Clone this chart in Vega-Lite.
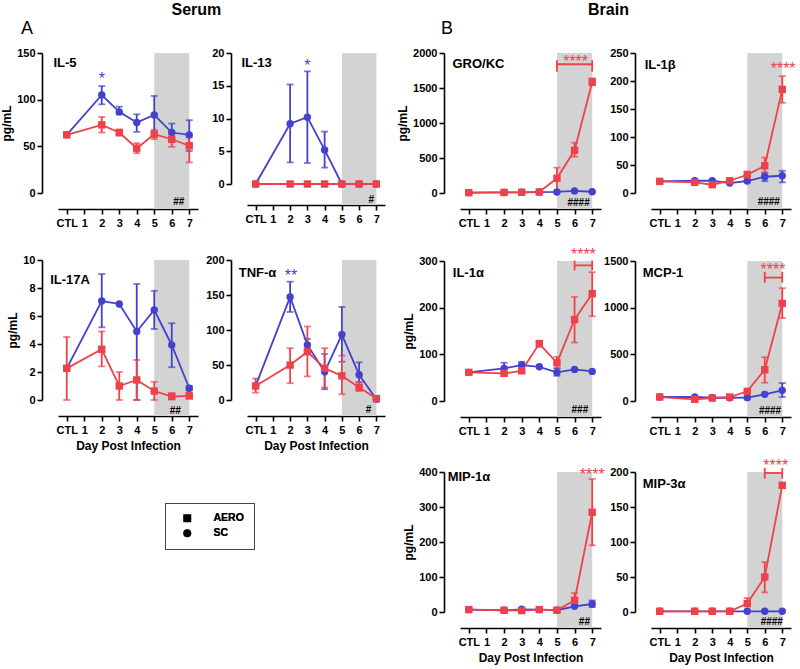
{
"$schema": "https://vega.github.io/schema/vega-lite/v6.json",
"padding": {"left": 0, "top": 2, "right": 5, "bottom": 5},
"datasets": {"d": [
{"c":"IL-5","g":"SC","d":0,"m":62.3},
{"c":"IL-5","g":"SC","d":2,"m":105,"lo":95,"hi":114.6},
{"c":"IL-5","g":"SC","d":3,"m":86.9,"lo":84.3,"hi":92.5},
{"c":"IL-5","g":"SC","d":4,"m":75.5,"lo":65.5,"hi":84.3},
{"c":"IL-5","g":"SC","d":5,"m":83.7,"lo":62,"hi":104},
{"c":"IL-5","g":"SC","d":6,"m":64.8,"lo":55,"hi":74.4},
{"c":"IL-5","g":"SC","d":7,"m":62.3,"lo":45,"hi":78},
{"c":"IL-13","g":"SC","d":0,"m":0},
{"c":"IL-13","g":"SC","d":2,"m":9.2,"lo":3.3,"hi":15.2},
{"c":"IL-13","g":"SC","d":3,"m":10.2,"lo":3.2,"hi":17.2},
{"c":"IL-13","g":"SC","d":4,"m":5.2,"lo":2.5,"hi":8.0},
{"c":"IL-13","g":"SC","d":5,"m":0},
{"c":"IL-13","g":"SC","d":6,"m":0},
{"c":"IL-13","g":"SC","d":7,"m":0},
{"c":"IL-17A","g":"SC","d":0,"m":2.26},
{"c":"IL-17A","g":"SC","d":2,"m":7.07,"lo":5.19,"hi":9.0},
{"c":"IL-17A","g":"SC","d":3,"m":6.86},
{"c":"IL-17A","g":"SC","d":4,"m":4.89,"lo":0,"hi":8.29},
{"c":"IL-17A","g":"SC","d":5,"m":6.43,"lo":5.07,"hi":7.8},
{"c":"IL-17A","g":"SC","d":6,"m":3.93,"lo":2.34,"hi":5.48},
{"c":"IL-17A","g":"SC","d":7,"m":0.84,"lo":0.7,"hi":1.0},
{"c":"TNF","g":"SC","d":0,"m":20.1},
{"c":"TNF","g":"SC","d":2,"m":147.3,"lo":125.8,"hi":169},
{"c":"TNF","g":"SC","d":3,"m":78.7,"lo":70,"hi":87.3},
{"c":"TNF","g":"SC","d":4,"m":40.3,"lo":15.4,"hi":65.8},
{"c":"TNF","g":"SC","d":5,"m":93.5,"lo":54.7,"hi":133},
{"c":"TNF","g":"SC","d":6,"m":36,"lo":25,"hi":53.8},
{"c":"TNF","g":"SC","d":7,"m":1},
{"c":"GRO","g":"SC","d":0,"m":5},
{"c":"GRO","g":"SC","d":2,"m":8},
{"c":"GRO","g":"SC","d":3,"m":10},
{"c":"GRO","g":"SC","d":4,"m":12},
{"c":"GRO","g":"SC","d":5,"m":15},
{"c":"GRO","g":"SC","d":6,"m":30},
{"c":"GRO","g":"SC","d":7,"m":18},
{"c":"IL-1b","g":"SC","d":0,"m":20.7},
{"c":"IL-1b","g":"SC","d":2,"m":21.9},
{"c":"IL-1b","g":"SC","d":3,"m":21.9},
{"c":"IL-1b","g":"SC","d":4,"m":17.8},
{"c":"IL-1b","g":"SC","d":5,"m":21.4},
{"c":"IL-1b","g":"SC","d":6,"m":29,"lo":21,"hi":36.8},
{"c":"IL-1b","g":"SC","d":7,"m":30.8,"lo":19,"hi":39.7},
{"c":"IL-1a","g":"SC","d":0,"m":61.3},
{"c":"IL-1a","g":"SC","d":2,"m":70,"lo":59,"hi":82},
{"c":"IL-1a","g":"SC","d":3,"m":77,"lo":67,"hi":84},
{"c":"IL-1a","g":"SC","d":4,"m":73.3},
{"c":"IL-1a","g":"SC","d":5,"m":61.3,"lo":54,"hi":70},
{"c":"IL-1a","g":"SC","d":6,"m":67.7},
{"c":"IL-1a","g":"SC","d":7,"m":63.4},
{"c":"MCP","g":"SC","d":0,"m":42.6},
{"c":"MCP","g":"SC","d":2,"m":42.6},
{"c":"MCP","g":"SC","d":3,"m":35},
{"c":"MCP","g":"SC","d":4,"m":35},
{"c":"MCP","g":"SC","d":5,"m":36},
{"c":"MCP","g":"SC","d":6,"m":71},
{"c":"MCP","g":"SC","d":7,"m":114,"lo":42.6,"hi":192},
{"c":"MIP1","g":"SC","d":0,"m":6.9},
{"c":"MIP1","g":"SC","d":2,"m":5},
{"c":"MIP1","g":"SC","d":3,"m":7.7},
{"c":"MIP1","g":"SC","d":4,"m":6.9},
{"c":"MIP1","g":"SC","d":5,"m":5},
{"c":"MIP1","g":"SC","d":6,"m":16.3},
{"c":"MIP1","g":"SC","d":7,"m":22.9,"lo":14,"hi":33},
{"c":"MIP3","g":"SC","d":0,"m":1},
{"c":"MIP3","g":"SC","d":2,"m":1},
{"c":"MIP3","g":"SC","d":3,"m":1},
{"c":"MIP3","g":"SC","d":4,"m":1},
{"c":"MIP3","g":"SC","d":5,"m":1},
{"c":"MIP3","g":"SC","d":6,"m":1},
{"c":"MIP3","g":"SC","d":7,"m":1},
{"c":"IL-5","g":"AERO","d":0,"m":62.3},
{"c":"IL-5","g":"AERO","d":2,"m":73,"lo":64.8,"hi":81.5},
{"c":"IL-5","g":"AERO","d":3,"m":64.8,"lo":61.5,"hi":68},
{"c":"IL-5","g":"AERO","d":4,"m":48,"lo":42.7,"hi":53.4},
{"c":"IL-5","g":"AERO","d":5,"m":63,"lo":57.6,"hi":67.7},
{"c":"IL-5","g":"AERO","d":6,"m":57.6,"lo":49.5,"hi":63},
{"c":"IL-5","g":"AERO","d":7,"m":50.6,"lo":32.8,"hi":59.4},
{"c":"IL-13","g":"AERO","d":0,"m":0},
{"c":"IL-13","g":"AERO","d":2,"m":0},
{"c":"IL-13","g":"AERO","d":3,"m":0},
{"c":"IL-13","g":"AERO","d":4,"m":0},
{"c":"IL-13","g":"AERO","d":5,"m":0},
{"c":"IL-13","g":"AERO","d":6,"m":0},
{"c":"IL-13","g":"AERO","d":7,"m":0},
{"c":"IL-17A","g":"AERO","d":0,"m":2.26,"lo":0,"hi":4.5},
{"c":"IL-17A","g":"AERO","d":2,"m":3.62,"lo":2.4,"hi":4.9},
{"c":"IL-17A","g":"AERO","d":3,"m":1.0,"lo":0,"hi":2.0},
{"c":"IL-17A","g":"AERO","d":4,"m":1.43,"lo":0,"hi":2.86},
{"c":"IL-17A","g":"AERO","d":5,"m":0.64,"lo":0,"hi":1.3},
{"c":"IL-17A","g":"AERO","d":6,"m":0.24,"lo":0.1,"hi":0.5},
{"c":"IL-17A","g":"AERO","d":7,"m":0.3,"lo":0.1,"hi":0.55},
{"c":"TNF","g":"AERO","d":0,"m":20.1,"lo":10.6,"hi":30.8},
{"c":"TNF","g":"AERO","d":2,"m":49.9,"lo":24,"hi":74},
{"c":"TNF","g":"AERO","d":3,"m":69,"lo":33.7,"hi":105},
{"c":"TNF","g":"AERO","d":4,"m":45.2,"lo":17.8,"hi":74},
{"c":"TNF","g":"AERO","d":5,"m":34.5,"lo":8.2,"hi":63.3},
{"c":"TNF","g":"AERO","d":6,"m":17.8,"lo":13,"hi":25.9},
{"c":"TNF","g":"AERO","d":7,"m":2},
{"c":"GRO","g":"AERO","d":0,"m":5},
{"c":"GRO","g":"AERO","d":2,"m":8},
{"c":"GRO","g":"AERO","d":3,"m":10},
{"c":"GRO","g":"AERO","d":4,"m":15},
{"c":"GRO","g":"AERO","d":5,"m":210,"lo":30,"hi":362},
{"c":"GRO","g":"AERO","d":6,"m":610,"lo":519,"hi":719},
{"c":"GRO","g":"AERO","d":7,"m":1586,"lo":1538,"hi":1638},
{"c":"IL-1b","g":"AERO","d":0,"m":20.7},
{"c":"IL-1b","g":"AERO","d":2,"m":18.9},
{"c":"IL-1b","g":"AERO","d":3,"m":14.8,"lo":12,"hi":18},
{"c":"IL-1b","g":"AERO","d":4,"m":21.9},
{"c":"IL-1b","g":"AERO","d":5,"m":32.6,"lo":28,"hi":38.4},
{"c":"IL-1b","g":"AERO","d":6,"m":48.6,"lo":33.8,"hi":63.3},
{"c":"IL-1b","g":"AERO","d":7,"m":185,"lo":161,"hi":208.7},
{"c":"IL-1a","g":"AERO","d":0,"m":61.3},
{"c":"IL-1a","g":"AERO","d":2,"m":59.2},
{"c":"IL-1a","g":"AERO","d":3,"m":64.7},
{"c":"IL-1a","g":"AERO","d":4,"m":123,"lo":116,"hi":128.9},
{"c":"IL-1a","g":"AERO","d":5,"m":81.8,"lo":70,"hi":94.7},
{"c":"IL-1a","g":"AERO","d":6,"m":174.6,"lo":125.4,"hi":223},
{"c":"IL-1a","g":"AERO","d":7,"m":230,"lo":181.6,"hi":276},
{"c":"MCP","g":"AERO","d":0,"m":42.6},
{"c":"MCP","g":"AERO","d":2,"m":18,"lo":5,"hi":30},
{"c":"MCP","g":"AERO","d":3,"m":32},
{"c":"MCP","g":"AERO","d":4,"m":42.6},
{"c":"MCP","g":"AERO","d":5,"m":103.4},
{"c":"MCP","g":"AERO","d":6,"m":334.8,"lo":196,"hi":469},
{"c":"MCP","g":"AERO","d":7,"m":1045,"lo":889,"hi":1209},
{"c":"MIP1","g":"AERO","d":0,"m":6.9},
{"c":"MIP1","g":"AERO","d":2,"m":4.9},
{"c":"MIP1","g":"AERO","d":3,"m":4},
{"c":"MIP1","g":"AERO","d":4,"m":6.9},
{"c":"MIP1","g":"AERO","d":5,"m":5},
{"c":"MIP1","g":"AERO","d":6,"m":33.4,"lo":18,"hi":54},
{"c":"MIP1","g":"AERO","d":7,"m":285,"lo":190.6,"hi":380},
{"c":"MIP3","g":"AERO","d":0,"m":1},
{"c":"MIP3","g":"AERO","d":2,"m":1},
{"c":"MIP3","g":"AERO","d":3,"m":1},
{"c":"MIP3","g":"AERO","d":4,"m":1},
{"c":"MIP3","g":"AERO","d":5,"m":12,"lo":10.5,"hi":20},
{"c":"MIP3","g":"AERO","d":6,"m":50,"lo":28,"hi":71.4},
{"c":"MIP3","g":"AERO","d":7,"m":181}
]},
"config": {
  "font": "Liberation Sans",
  "view": {"stroke": null},
  "range": {"category": ["#EF4149", "#4242CF"]},
  "axis": {"grid": false, "domainColor": "#000", "domainWidth": 1.6, "tickColor": "#000", "tickWidth": 1.6, "tickSize": 5, "labelFont": "Liberation Sans", "labelFontSize": 11, "labelFontWeight": "bold", "labelColor": "#000", "titleFont": "Liberation Sans", "titleFontSize": 12, "titleFontWeight": "bold", "titleColor": "#000", "offset": 16, "labelFlush": false, "labelOverlap": false, "format": "d"},
  "axisX": {"labelPadding": 3, "titlePadding": 5},
  "axisY": {"labelPadding": 2, "titlePadding": 3},
  "text": {"baseline": "alphabetic", "color": "#000", "font": "Liberation Sans"},
  "title": {"font": "Liberation Sans", "color": "#000"}
},
"spacing": 11,
"hconcat": [
{
 "title": {"text": "Serum", "anchor": "start", "frame": "group", "dx": 113.5, "fontSize": 16, "fontWeight": "bold", "offset": 2},
 "spacing": 26,
 "vconcat": [
 {
  "title": {"text": "A", "anchor": "start", "frame": "group", "dx": -37, "fontSize": 18, "fontWeight": "normal", "offset": 9},
  "bounds": "flush",
  "spacing": 49,
  "hconcat": [
  {"width": 140, "height": 140, "layer": [
   {"data": {"values": [{}]}, "mark": {"type": "rect", "color": "#d3d3d3"},
    "encoding": {"x": {"datum": 5, "type": "quantitative", "scale": {"domain": [-0.5, 7.5], "nice": false}, "axis": {"values": [0,1,2,3,4,5,6,7], "labelExpr": "datum.value == 0 ? 'CTL' : datum.label", "title": null}},
     "x2": {"datum": 7},
     "y": {"datum": 150, "type": "quantitative", "scale": {"domain": [0, 150], "nice": false}, "axis": {"values": [0,50,100,150], "title": "pg/mL"}},
     "y2": {"datum": -17.1}}},
   {"data": {"name": "d"}, "transform": [{"filter": "datum.c == 'IL-5'"}], "mark": {"type": "point", "filled": true, "opacity": 0, "size": 55},
    "encoding": {"x": {"field": "d", "type": "quantitative", "axis": {"values": [0,1,2,3,4,5,6,7], "labelExpr": "datum.value == 0 ? 'CTL' : datum.label", "title": null}}, "y": {"field": "m", "type": "quantitative", "axis": {"values": [0,50,100,150], "title": "pg/mL"}},
     "color": {"field": "g", "type": "nominal", "legend": {"orient": "none", "legendX": 107, "legendY": 450, "title": null, "symbolSize": 64, "symbolOpacity": 1, "symbolStrokeWidth": 0, "symbolOffset": 7, "labelFontSize": 10.5, "labelFontWeight": "bold", "labelFont": "Liberation Sans", "labelColor": "#000", "labelOffset": 21, "padding": 10, "strokeColor": "#444", "rowPadding": 4}},
     "shape": {"field": "g", "type": "nominal", "scale": {"range": ["square", "circle"]}, "legend": {"orient": "none", "legendX": 107, "legendY": 450, "title": null, "symbolSize": 64, "symbolOpacity": 1, "symbolStrokeWidth": 0, "symbolOffset": 7, "labelFontSize": 10.5, "labelFontWeight": "bold", "labelFont": "Liberation Sans", "labelColor": "#000", "labelOffset": 21, "padding": 10, "strokeColor": "#444", "rowPadding": 4}}}},
   {"data": {"name": "d"}, "transform": [{"filter": "datum.c == 'IL-5' && isValid(datum.lo)"}], "mark": {"type": "errorbar", "ticks": true, "size": 7, "thickness": 1.8},
    "encoding": {"x": {"field": "d", "type": "quantitative", "axis": {"values": [0,1,2,3,4,5,6,7], "labelExpr": "datum.value == 0 ? 'CTL' : datum.label", "title": null}}, "y": {"field": "lo", "type": "quantitative", "axis": {"values": [0,50,100,150], "title": "pg/mL"}}, "y2": {"field": "hi"}, "color": {"field": "g", "type": "nominal"}}},
   {"data": {"name": "d"}, "transform": [{"filter": "datum.c == 'IL-5'"}], "mark": {"type": "line", "strokeWidth": 1.8},
    "encoding": {"x": {"field": "d", "type": "quantitative", "axis": {"values": [0,1,2,3,4,5,6,7], "labelExpr": "datum.value == 0 ? 'CTL' : datum.label", "title": null}}, "y": {"field": "m", "type": "quantitative", "axis": {"values": [0,50,100,150], "title": "pg/mL"}}, "color": {"field": "g", "type": "nominal"}}},
   {"data": {"name": "d"}, "transform": [{"filter": "datum.c == 'IL-5'"}], "mark": {"type": "point", "filled": true, "opacity": 1, "size": 55},
    "encoding": {"x": {"field": "d", "type": "quantitative", "axis": {"values": [0,1,2,3,4,5,6,7], "labelExpr": "datum.value == 0 ? 'CTL' : datum.label", "title": null}}, "y": {"field": "m", "type": "quantitative", "axis": {"values": [0,50,100,150], "title": "pg/mL"}}, "color": {"field": "g", "type": "nominal"}, "shape": {"field": "g", "type": "nominal", "scale": {"range": ["square", "circle"]}}}},
   {"data": {"values": [{}]}, "mark": {"type": "text", "text": "IL-5", "align": "left", "fontSize": 13, "fontWeight": "bold"}, "encoding": {"x": {"datum": -0.76, "axis": {"values": [0,1,2,3,4,5,6,7], "labelExpr": "datum.value == 0 ? 'CTL' : datum.label", "title": null}}, "y": {"datum": 135, "axis": {"values": [0,50,100,150], "title": "pg/mL"}}}},
   {"data": {"values": [{}]}, "mark": {"type": "text", "text": "*", "fontSize": 16, "color": "#4242CF"}, "encoding": {"x": {"datum": 2, "axis": {"values": [0,1,2,3,4,5,6,7], "labelExpr": "datum.value == 0 ? 'CTL' : datum.label", "title": null}}, "y": {"datum": 117, "axis": {"values": [0,50,100,150], "title": "pg/mL"}}}},
   {"data": {"values": [{}]}, "mark": {"type": "text", "text": "##", "fontSize": 10, "fontWeight": "bold"}, "encoding": {"x": {"datum": 6.4, "axis": {"values": [0,1,2,3,4,5,6,7], "labelExpr": "datum.value == 0 ? 'CTL' : datum.label", "title": null}}, "y": {"datum": -12.6, "axis": {"values": [0,50,100,150], "title": "pg/mL"}}}}
  ]},
  {"width": 138, "height": 131, "layer": [
   {"data": {"values": [{}]}, "mark": {"type": "rect", "color": "#d3d3d3"},
    "encoding": {"x": {"datum": 5, "type": "quantitative", "scale": {"domain": [-0.5, 7.5], "nice": false}, "axis": {"values": [0,1,2,3,4,5,6,7], "labelExpr": "datum.value == 0 ? 'CTL' : datum.label", "title": null, "offset": 21}},
     "x2": {"datum": 7},
     "y": {"datum": 20, "type": "quantitative", "scale": {"domain": [0, 20], "nice": false}, "axis": {"values": [0,5,10,15,20], "title": null}},
     "y2": {"datum": -3.2}}},
   {"data": {"name": "d"}, "transform": [{"filter": "datum.c == 'IL-13' && isValid(datum.lo)"}], "mark": {"type": "errorbar", "ticks": true, "size": 7, "thickness": 1.8},
    "encoding": {"x": {"field": "d", "type": "quantitative", "axis": {"values": [0,1,2,3,4,5,6,7], "labelExpr": "datum.value == 0 ? 'CTL' : datum.label", "title": null, "offset": 21}}, "y": {"field": "lo", "type": "quantitative", "axis": {"values": [0,5,10,15,20], "title": null}}, "y2": {"field": "hi"}, "color": {"field": "g", "type": "nominal"}}},
   {"data": {"name": "d"}, "transform": [{"filter": "datum.c == 'IL-13'"}], "mark": {"type": "line", "strokeWidth": 1.8},
    "encoding": {"x": {"field": "d", "type": "quantitative", "axis": {"values": [0,1,2,3,4,5,6,7], "labelExpr": "datum.value == 0 ? 'CTL' : datum.label", "title": null, "offset": 21}}, "y": {"field": "m", "type": "quantitative", "axis": {"values": [0,5,10,15,20], "title": null}}, "color": {"field": "g", "type": "nominal"}}},
   {"data": {"name": "d"}, "transform": [{"filter": "datum.c == 'IL-13'"}], "mark": {"type": "point", "filled": true, "opacity": 1, "size": 55},
    "encoding": {"x": {"field": "d", "type": "quantitative", "axis": {"values": [0,1,2,3,4,5,6,7], "labelExpr": "datum.value == 0 ? 'CTL' : datum.label", "title": null, "offset": 21}}, "y": {"field": "m", "type": "quantitative", "axis": {"values": [0,5,10,15,20], "title": null}}, "color": {"field": "g", "type": "nominal"}, "shape": {"field": "g", "type": "nominal", "scale": {"range": ["square", "circle"]}}}},
   {"data": {"values": [{}]}, "mark": {"type": "text", "text": "IL-13", "align": "left", "fontSize": 13, "fontWeight": "bold"}, "encoding": {"x": {"datum": -0.82, "axis": {"values": [0,1,2,3,4,5,6,7], "labelExpr": "datum.value == 0 ? 'CTL' : datum.label", "title": null, "offset": 21}}, "y": {"datum": 17.8, "axis": {"values": [0,5,10,15,20], "title": null}}}},
   {"data": {"values": [{}]}, "mark": {"type": "text", "text": "*", "fontSize": 16, "color": "#4242CF"}, "encoding": {"x": {"datum": 3, "axis": {"values": [0,1,2,3,4,5,6,7], "labelExpr": "datum.value == 0 ? 'CTL' : datum.label", "title": null, "offset": 21}}, "y": {"datum": 17.2, "axis": {"values": [0,5,10,15,20], "title": null}}}},
   {"data": {"values": [{}]}, "mark": {"type": "text", "text": "#", "fontSize": 10, "fontWeight": "bold"}, "encoding": {"x": {"datum": 6.7, "axis": {"values": [0,1,2,3,4,5,6,7], "labelExpr": "datum.value == 0 ? 'CTL' : datum.label", "title": null, "offset": 21}}, "y": {"datum": -2.85, "axis": {"values": [0,5,10,15,20], "title": null}}}}
  ]}
  ]
 },
 {
  "bounds": "flush",
  "spacing": 49,
  "hconcat": [
  {"width": 140, "height": 140, "layer": [
   {"data": {"values": [{}]}, "mark": {"type": "rect", "color": "#d3d3d3"},
    "encoding": {"x": {"datum": 5, "type": "quantitative", "scale": {"domain": [-0.5, 7.5], "nice": false}, "axis": {"values": [0,1,2,3,4,5,6,7], "labelExpr": "datum.value == 0 ? 'CTL' : datum.label", "title": "Day Post Infection"}},
     "x2": {"datum": 7},
     "y": {"datum": 10, "type": "quantitative", "scale": {"domain": [0, 10], "nice": false}, "axis": {"values": [0,2,4,6,8,10], "title": "pg/mL"}},
     "y2": {"datum": -1.14}}},
   {"data": {"name": "d"}, "transform": [{"filter": "datum.c == 'IL-17A' && isValid(datum.lo)"}], "mark": {"type": "errorbar", "ticks": true, "size": 7, "thickness": 1.8},
    "encoding": {"x": {"field": "d", "type": "quantitative", "axis": {"values": [0,1,2,3,4,5,6,7], "labelExpr": "datum.value == 0 ? 'CTL' : datum.label", "title": "Day Post Infection"}}, "y": {"field": "lo", "type": "quantitative", "axis": {"values": [0,2,4,6,8,10], "title": "pg/mL"}}, "y2": {"field": "hi"}, "color": {"field": "g", "type": "nominal"}}},
   {"data": {"name": "d"}, "transform": [{"filter": "datum.c == 'IL-17A'"}], "mark": {"type": "line", "strokeWidth": 1.8},
    "encoding": {"x": {"field": "d", "type": "quantitative", "axis": {"values": [0,1,2,3,4,5,6,7], "labelExpr": "datum.value == 0 ? 'CTL' : datum.label", "title": "Day Post Infection"}}, "y": {"field": "m", "type": "quantitative", "axis": {"values": [0,2,4,6,8,10], "title": "pg/mL"}}, "color": {"field": "g", "type": "nominal"}}},
   {"data": {"name": "d"}, "transform": [{"filter": "datum.c == 'IL-17A'"}], "mark": {"type": "point", "filled": true, "opacity": 1, "size": 55},
    "encoding": {"x": {"field": "d", "type": "quantitative", "axis": {"values": [0,1,2,3,4,5,6,7], "labelExpr": "datum.value == 0 ? 'CTL' : datum.label", "title": "Day Post Infection"}}, "y": {"field": "m", "type": "quantitative", "axis": {"values": [0,2,4,6,8,10], "title": "pg/mL"}}, "color": {"field": "g", "type": "nominal"}, "shape": {"field": "g", "type": "nominal", "scale": {"range": ["square", "circle"]}}}},
   {"data": {"values": [{}]}, "mark": {"type": "text", "text": "IL-17A", "align": "left", "fontSize": 13, "fontWeight": "bold"}, "encoding": {"x": {"datum": -0.95, "axis": {"values": [0,1,2,3,4,5,6,7], "labelExpr": "datum.value == 0 ? 'CTL' : datum.label", "title": "Day Post Infection"}}, "y": {"datum": 8.26, "axis": {"values": [0,2,4,6,8,10], "title": "pg/mL"}}}},
   {"data": {"values": [{}]}, "mark": {"type": "text", "text": "##", "fontSize": 10, "fontWeight": "bold"}, "encoding": {"x": {"datum": 6.2, "axis": {"values": [0,1,2,3,4,5,6,7], "labelExpr": "datum.value == 0 ? 'CTL' : datum.label", "title": "Day Post Infection"}}, "y": {"datum": -0.97, "axis": {"values": [0,2,4,6,8,10], "title": "pg/mL"}}}}
  ]},
  {"width": 138, "height": 140, "layer": [
   {"data": {"values": [{}]}, "mark": {"type": "rect", "color": "#d3d3d3"},
    "encoding": {"x": {"datum": 5, "type": "quantitative", "scale": {"domain": [-0.5, 7.5], "nice": false}, "axis": {"values": [0,1,2,3,4,5,6,7], "labelExpr": "datum.value == 0 ? 'CTL' : datum.label", "title": "Day Post Infection"}},
     "x2": {"datum": 7},
     "y": {"datum": 200, "type": "quantitative", "scale": {"domain": [0, 200], "nice": false}, "axis": {"values": [0,50,100,150,200], "title": null}},
     "y2": {"datum": -22.9}}},
   {"data": {"name": "d"}, "transform": [{"filter": "datum.c == 'TNF' && isValid(datum.lo)"}], "mark": {"type": "errorbar", "ticks": true, "size": 7, "thickness": 1.8},
    "encoding": {"x": {"field": "d", "type": "quantitative", "axis": {"values": [0,1,2,3,4,5,6,7], "labelExpr": "datum.value == 0 ? 'CTL' : datum.label", "title": "Day Post Infection"}}, "y": {"field": "lo", "type": "quantitative", "axis": {"values": [0,50,100,150,200], "title": null}}, "y2": {"field": "hi"}, "color": {"field": "g", "type": "nominal"}}},
   {"data": {"name": "d"}, "transform": [{"filter": "datum.c == 'TNF'"}], "mark": {"type": "line", "strokeWidth": 1.8},
    "encoding": {"x": {"field": "d", "type": "quantitative", "axis": {"values": [0,1,2,3,4,5,6,7], "labelExpr": "datum.value == 0 ? 'CTL' : datum.label", "title": "Day Post Infection"}}, "y": {"field": "m", "type": "quantitative", "axis": {"values": [0,50,100,150,200], "title": null}}, "color": {"field": "g", "type": "nominal"}}},
   {"data": {"name": "d"}, "transform": [{"filter": "datum.c == 'TNF'"}], "mark": {"type": "point", "filled": true, "opacity": 1, "size": 55},
    "encoding": {"x": {"field": "d", "type": "quantitative", "axis": {"values": [0,1,2,3,4,5,6,7], "labelExpr": "datum.value == 0 ? 'CTL' : datum.label", "title": "Day Post Infection"}}, "y": {"field": "m", "type": "quantitative", "axis": {"values": [0,50,100,150,200], "title": null}}, "color": {"field": "g", "type": "nominal"}, "shape": {"field": "g", "type": "nominal", "scale": {"range": ["square", "circle"]}}}},
   {"data": {"values": [{}]}, "mark": {"type": "text", "text": "TNF-α", "align": "left", "fontSize": 13, "fontWeight": "bold"}, "encoding": {"x": {"datum": -0.98, "axis": {"values": [0,1,2,3,4,5,6,7], "labelExpr": "datum.value == 0 ? 'CTL' : datum.label", "title": "Day Post Infection"}}, "y": {"datum": 176, "axis": {"values": [0,50,100,150,200], "title": null}}}},
   {"data": {"values": [{}]}, "mark": {"type": "text", "text": "**", "fontSize": 16, "color": "#4242CF"}, "encoding": {"x": {"datum": 2.05, "axis": {"values": [0,1,2,3,4,5,6,7], "labelExpr": "datum.value == 0 ? 'CTL' : datum.label", "title": "Day Post Infection"}}, "y": {"datum": 170, "axis": {"values": [0,50,100,150,200], "title": null}}}},
   {"data": {"values": [{}]}, "mark": {"type": "text", "text": "#", "fontSize": 10, "fontWeight": "bold"}, "encoding": {"x": {"datum": 6.55, "axis": {"values": [0,1,2,3,4,5,6,7], "labelExpr": "datum.value == 0 ? 'CTL' : datum.label", "title": "Day Post Infection"}}, "y": {"datum": -18.6, "axis": {"values": [0,50,100,150,200], "title": null}}}}
  ]}
  ]
 }
 ]
},
{
 "title": {"text": "Brain", "anchor": "start", "frame": "group", "dx": 128, "fontSize": 16, "fontWeight": "bold", "offset": 2},
 "spacing": 19,
 "vconcat": [
 {
  "title": {"text": "B", "anchor": "start", "frame": "group", "dx": -19, "fontSize": 18, "fontWeight": "normal", "offset": 9},
  "bounds": "flush",
  "spacing": 50,
  "hconcat": [
  {"width": 141, "height": 140, "layer": [
   {"data": {"values": [{}]}, "mark": {"type": "rect", "color": "#d3d3d3"},
    "encoding": {"x": {"datum": 5, "type": "quantitative", "scale": {"domain": [-0.5, 7.5], "nice": false}, "axis": {"values": [0,1,2,3,4,5,6,7], "labelExpr": "datum.value == 0 ? 'CTL' : datum.label", "title": null}},
     "x2": {"datum": 7},
     "y": {"datum": 2000, "type": "quantitative", "scale": {"domain": [0, 2000], "nice": false}, "axis": {"values": [0,500,1000,1500,2000], "title": "pg/mL"}},
     "y2": {"datum": -228.6}}},
   {"data": {"name": "d"}, "transform": [{"filter": "datum.c == 'GRO' && isValid(datum.lo)"}], "mark": {"type": "errorbar", "ticks": true, "size": 7, "thickness": 1.8},
    "encoding": {"x": {"field": "d", "type": "quantitative", "axis": {"values": [0,1,2,3,4,5,6,7], "labelExpr": "datum.value == 0 ? 'CTL' : datum.label", "title": null}}, "y": {"field": "lo", "type": "quantitative", "axis": {"values": [0,500,1000,1500,2000], "title": "pg/mL"}}, "y2": {"field": "hi"}, "color": {"field": "g", "type": "nominal"}}},
   {"data": {"name": "d"}, "transform": [{"filter": "datum.c == 'GRO'"}], "mark": {"type": "line", "strokeWidth": 1.8},
    "encoding": {"x": {"field": "d", "type": "quantitative", "axis": {"values": [0,1,2,3,4,5,6,7], "labelExpr": "datum.value == 0 ? 'CTL' : datum.label", "title": null}}, "y": {"field": "m", "type": "quantitative", "axis": {"values": [0,500,1000,1500,2000], "title": "pg/mL"}}, "color": {"field": "g", "type": "nominal"}}},
   {"data": {"name": "d"}, "transform": [{"filter": "datum.c == 'GRO'"}], "mark": {"type": "point", "filled": true, "opacity": 1, "size": 55},
    "encoding": {"x": {"field": "d", "type": "quantitative", "axis": {"values": [0,1,2,3,4,5,6,7], "labelExpr": "datum.value == 0 ? 'CTL' : datum.label", "title": null}}, "y": {"field": "m", "type": "quantitative", "axis": {"values": [0,500,1000,1500,2000], "title": "pg/mL"}}, "color": {"field": "g", "type": "nominal"}, "shape": {"field": "g", "type": "nominal", "scale": {"range": ["square", "circle"]}}}},
   {"data": {"values": [{}]}, "mark": {"type": "text", "text": "GRO/KC", "align": "left", "fontSize": 13, "fontWeight": "bold"}, "encoding": {"x": {"datum": -0.93, "axis": {"values": [0,1,2,3,4,5,6,7], "labelExpr": "datum.value == 0 ? 'CTL' : datum.label", "title": null}}, "y": {"datum": 1790, "axis": {"values": [0,500,1000,1500,2000], "title": "pg/mL"}}}},
   {"data": {"values": [{}]}, "mark": {"type": "rule", "color": "#EF4149", "strokeWidth": 1.8}, "encoding": {"x": {"datum": 5, "axis": {"values": [0,1,2,3,4,5,6,7], "labelExpr": "datum.value == 0 ? 'CTL' : datum.label", "title": null}}, "x2": {"datum": 7}, "y": {"datum": 1839, "axis": {"values": [0,500,1000,1500,2000], "title": "pg/mL"}}}},
   {"data": {"values": [{}]}, "mark": {"type": "rule", "color": "#EF4149", "strokeWidth": 1.8}, "encoding": {"x": {"datum": 5, "axis": {"values": [0,1,2,3,4,5,6,7], "labelExpr": "datum.value == 0 ? 'CTL' : datum.label", "title": null}}, "y": {"datum": 1733, "axis": {"values": [0,500,1000,1500,2000], "title": "pg/mL"}}, "y2": {"datum": 1896}}},
   {"data": {"values": [{}]}, "mark": {"type": "rule", "color": "#EF4149", "strokeWidth": 1.8}, "encoding": {"x": {"datum": 7, "axis": {"values": [0,1,2,3,4,5,6,7], "labelExpr": "datum.value == 0 ? 'CTL' : datum.label", "title": null}}, "y": {"datum": 1733, "axis": {"values": [0,500,1000,1500,2000], "title": "pg/mL"}}, "y2": {"datum": 1896}}},
   {"data": {"values": [{}]}, "mark": {"type": "text", "text": "****", "fontSize": 16, "color": "#EF4149"}, "encoding": {"x": {"datum": 6.06, "axis": {"values": [0,1,2,3,4,5,6,7], "labelExpr": "datum.value == 0 ? 'CTL' : datum.label", "title": null}}, "y": {"datum": 1793, "axis": {"values": [0,500,1000,1500,2000], "title": "pg/mL"}}}},
   {"data": {"values": [{}]}, "mark": {"type": "text", "text": "####", "fontSize": 10, "fontWeight": "bold"}, "encoding": {"x": {"datum": 6.23, "axis": {"values": [0,1,2,3,4,5,6,7], "labelExpr": "datum.value == 0 ? 'CTL' : datum.label", "title": null}}, "y": {"datum": -180, "axis": {"values": [0,500,1000,1500,2000], "title": "pg/mL"}}}}
  ]},
  {"width": 140, "height": 140, "layer": [
   {"data": {"values": [{}]}, "mark": {"type": "rect", "color": "#d3d3d3"},
    "encoding": {"x": {"datum": 5, "type": "quantitative", "scale": {"domain": [-0.5, 7.5], "nice": false}, "axis": {"values": [0,1,2,3,4,5,6,7], "labelExpr": "datum.value == 0 ? 'CTL' : datum.label", "title": null}},
     "x2": {"datum": 7},
     "y": {"datum": 250, "type": "quantitative", "scale": {"domain": [0, 250], "nice": false}, "axis": {"values": [0,50,100,150,200,250], "title": null}},
     "y2": {"datum": -28.6}}},
   {"data": {"name": "d"}, "transform": [{"filter": "datum.c == 'IL-1b' && isValid(datum.lo)"}], "mark": {"type": "errorbar", "ticks": true, "size": 7, "thickness": 1.8},
    "encoding": {"x": {"field": "d", "type": "quantitative", "axis": {"values": [0,1,2,3,4,5,6,7], "labelExpr": "datum.value == 0 ? 'CTL' : datum.label", "title": null}}, "y": {"field": "lo", "type": "quantitative", "axis": {"values": [0,50,100,150,200,250], "title": null}}, "y2": {"field": "hi"}, "color": {"field": "g", "type": "nominal"}}},
   {"data": {"name": "d"}, "transform": [{"filter": "datum.c == 'IL-1b'"}], "mark": {"type": "line", "strokeWidth": 1.8},
    "encoding": {"x": {"field": "d", "type": "quantitative", "axis": {"values": [0,1,2,3,4,5,6,7], "labelExpr": "datum.value == 0 ? 'CTL' : datum.label", "title": null}}, "y": {"field": "m", "type": "quantitative", "axis": {"values": [0,50,100,150,200,250], "title": null}}, "color": {"field": "g", "type": "nominal"}}},
   {"data": {"name": "d"}, "transform": [{"filter": "datum.c == 'IL-1b'"}], "mark": {"type": "point", "filled": true, "opacity": 1, "size": 55},
    "encoding": {"x": {"field": "d", "type": "quantitative", "axis": {"values": [0,1,2,3,4,5,6,7], "labelExpr": "datum.value == 0 ? 'CTL' : datum.label", "title": null}}, "y": {"field": "m", "type": "quantitative", "axis": {"values": [0,50,100,150,200,250], "title": null}}, "color": {"field": "g", "type": "nominal"}, "shape": {"field": "g", "type": "nominal", "scale": {"range": ["square", "circle"]}}}},
   {"data": {"values": [{}]}, "mark": {"type": "text", "text": "IL-1β", "align": "left", "fontSize": 13, "fontWeight": "bold"}, "encoding": {"x": {"datum": -0.86, "axis": {"values": [0,1,2,3,4,5,6,7], "labelExpr": "datum.value == 0 ? 'CTL' : datum.label", "title": null}}, "y": {"datum": 220.6, "axis": {"values": [0,50,100,150,200,250], "title": null}}}},
   {"data": {"values": [{}]}, "mark": {"type": "text", "text": "****", "fontSize": 16, "color": "#EF4149"}, "encoding": {"x": {"datum": 7.05, "axis": {"values": [0,1,2,3,4,5,6,7], "labelExpr": "datum.value == 0 ? 'CTL' : datum.label", "title": null}}, "y": {"datum": 212, "axis": {"values": [0,50,100,150,200,250], "title": null}}}},
   {"data": {"values": [{}]}, "mark": {"type": "text", "text": "####", "fontSize": 10, "fontWeight": "bold"}, "encoding": {"x": {"datum": 6.23, "axis": {"values": [0,1,2,3,4,5,6,7], "labelExpr": "datum.value == 0 ? 'CTL' : datum.label", "title": null}}, "y": {"datum": -21.9, "axis": {"values": [0,50,100,150,200,250], "title": null}}}}
  ]}
  ]
 },
 {
 "spacing": 22,
 "vconcat": [
 {
  "bounds": "flush",
  "spacing": 50,
  "hconcat": [
  {"width": 141, "height": 140, "layer": [
   {"data": {"values": [{}]}, "mark": {"type": "rect", "color": "#d3d3d3"},
    "encoding": {"x": {"datum": 5, "type": "quantitative", "scale": {"domain": [-0.5, 7.5], "nice": false}, "axis": {"values": [0,1,2,3,4,5,6,7], "labelExpr": "datum.value == 0 ? 'CTL' : datum.label", "title": null}},
     "x2": {"datum": 7},
     "y": {"datum": 300, "type": "quantitative", "scale": {"domain": [0, 300], "nice": false}, "axis": {"values": [0,100,200,300], "title": "pg/mL"}},
     "y2": {"datum": -34.3}}},
   {"data": {"name": "d"}, "transform": [{"filter": "datum.c == 'IL-1a' && isValid(datum.lo)"}], "mark": {"type": "errorbar", "ticks": true, "size": 7, "thickness": 1.8},
    "encoding": {"x": {"field": "d", "type": "quantitative", "axis": {"values": [0,1,2,3,4,5,6,7], "labelExpr": "datum.value == 0 ? 'CTL' : datum.label", "title": null}}, "y": {"field": "lo", "type": "quantitative", "axis": {"values": [0,100,200,300], "title": "pg/mL"}}, "y2": {"field": "hi"}, "color": {"field": "g", "type": "nominal"}}},
   {"data": {"name": "d"}, "transform": [{"filter": "datum.c == 'IL-1a'"}], "mark": {"type": "line", "strokeWidth": 1.8},
    "encoding": {"x": {"field": "d", "type": "quantitative", "axis": {"values": [0,1,2,3,4,5,6,7], "labelExpr": "datum.value == 0 ? 'CTL' : datum.label", "title": null}}, "y": {"field": "m", "type": "quantitative", "axis": {"values": [0,100,200,300], "title": "pg/mL"}}, "color": {"field": "g", "type": "nominal"}}},
   {"data": {"name": "d"}, "transform": [{"filter": "datum.c == 'IL-1a'"}], "mark": {"type": "point", "filled": true, "opacity": 1, "size": 55},
    "encoding": {"x": {"field": "d", "type": "quantitative", "axis": {"values": [0,1,2,3,4,5,6,7], "labelExpr": "datum.value == 0 ? 'CTL' : datum.label", "title": null}}, "y": {"field": "m", "type": "quantitative", "axis": {"values": [0,100,200,300], "title": "pg/mL"}}, "color": {"field": "g", "type": "nominal"}, "shape": {"field": "g", "type": "nominal", "scale": {"range": ["square", "circle"]}}}},
   {"data": {"values": [{}]}, "mark": {"type": "text", "text": "IL-1α", "align": "left", "fontSize": 13, "fontWeight": "bold"}, "encoding": {"x": {"datum": -0.91, "axis": {"values": [0,1,2,3,4,5,6,7], "labelExpr": "datum.value == 0 ? 'CTL' : datum.label", "title": null}}, "y": {"datum": 265.6, "axis": {"values": [0,100,200,300], "title": "pg/mL"}}}},
   {"data": {"values": [{}]}, "mark": {"type": "rule", "color": "#EF4149", "strokeWidth": 1.8}, "encoding": {"x": {"datum": 6, "axis": {"values": [0,1,2,3,4,5,6,7], "labelExpr": "datum.value == 0 ? 'CTL' : datum.label", "title": null}}, "x2": {"datum": 7}, "y": {"datum": 290.6, "axis": {"values": [0,100,200,300], "title": "pg/mL"}}}},
   {"data": {"values": [{}]}, "mark": {"type": "rule", "color": "#EF4149", "strokeWidth": 1.8}, "encoding": {"x": {"datum": 6, "axis": {"values": [0,1,2,3,4,5,6,7], "labelExpr": "datum.value == 0 ? 'CTL' : datum.label", "title": null}}, "y": {"datum": 280, "axis": {"values": [0,100,200,300], "title": "pg/mL"}}, "y2": {"datum": 301}}},
   {"data": {"values": [{}]}, "mark": {"type": "rule", "color": "#EF4149", "strokeWidth": 1.8}, "encoding": {"x": {"datum": 7, "axis": {"values": [0,1,2,3,4,5,6,7], "labelExpr": "datum.value == 0 ? 'CTL' : datum.label", "title": null}}, "y": {"datum": 280, "axis": {"values": [0,100,200,300], "title": "pg/mL"}}, "y2": {"datum": 301}}},
   {"data": {"values": [{}]}, "mark": {"type": "text", "text": "****", "fontSize": 16, "color": "#EF4149"}, "encoding": {"x": {"datum": 6.5, "axis": {"values": [0,1,2,3,4,5,6,7], "labelExpr": "datum.value == 0 ? 'CTL' : datum.label", "title": null}}, "y": {"datum": 301.5, "axis": {"values": [0,100,200,300], "title": "pg/mL"}}}},
   {"data": {"values": [{}]}, "mark": {"type": "text", "text": "###", "fontSize": 10, "fontWeight": "bold"}, "encoding": {"x": {"datum": 6.3, "axis": {"values": [0,1,2,3,4,5,6,7], "labelExpr": "datum.value == 0 ? 'CTL' : datum.label", "title": null}}, "y": {"datum": -24.8, "axis": {"values": [0,100,200,300], "title": "pg/mL"}}}}
  ]},
  {"width": 140, "height": 140, "layer": [
   {"data": {"values": [{}]}, "mark": {"type": "rect", "color": "#d3d3d3"},
    "encoding": {"x": {"datum": 5, "type": "quantitative", "scale": {"domain": [-0.5, 7.5], "nice": false}, "axis": {"values": [0,1,2,3,4,5,6,7], "labelExpr": "datum.value == 0 ? 'CTL' : datum.label", "title": null}},
     "x2": {"datum": 7},
     "y": {"datum": 1500, "type": "quantitative", "scale": {"domain": [0, 1500], "nice": false}, "axis": {"values": [0,500,1000,1500], "title": null}},
     "y2": {"datum": -171.4}}},
   {"data": {"name": "d"}, "transform": [{"filter": "datum.c == 'MCP' && isValid(datum.lo)"}], "mark": {"type": "errorbar", "ticks": true, "size": 7, "thickness": 1.8},
    "encoding": {"x": {"field": "d", "type": "quantitative", "axis": {"values": [0,1,2,3,4,5,6,7], "labelExpr": "datum.value == 0 ? 'CTL' : datum.label", "title": null}}, "y": {"field": "lo", "type": "quantitative", "axis": {"values": [0,500,1000,1500], "title": null}}, "y2": {"field": "hi"}, "color": {"field": "g", "type": "nominal"}}},
   {"data": {"name": "d"}, "transform": [{"filter": "datum.c == 'MCP'"}], "mark": {"type": "line", "strokeWidth": 1.8},
    "encoding": {"x": {"field": "d", "type": "quantitative", "axis": {"values": [0,1,2,3,4,5,6,7], "labelExpr": "datum.value == 0 ? 'CTL' : datum.label", "title": null}}, "y": {"field": "m", "type": "quantitative", "axis": {"values": [0,500,1000,1500], "title": null}}, "color": {"field": "g", "type": "nominal"}}},
   {"data": {"name": "d"}, "transform": [{"filter": "datum.c == 'MCP'"}], "mark": {"type": "point", "filled": true, "opacity": 1, "size": 55},
    "encoding": {"x": {"field": "d", "type": "quantitative", "axis": {"values": [0,1,2,3,4,5,6,7], "labelExpr": "datum.value == 0 ? 'CTL' : datum.label", "title": null}}, "y": {"field": "m", "type": "quantitative", "axis": {"values": [0,500,1000,1500], "title": null}}, "color": {"field": "g", "type": "nominal"}, "shape": {"field": "g", "type": "nominal", "scale": {"range": ["square", "circle"]}}}},
   {"data": {"values": [{}]}, "mark": {"type": "text", "text": "MCP-1", "align": "left", "fontSize": 13, "fontWeight": "bold"}, "encoding": {"x": {"datum": -0.97, "axis": {"values": [0,1,2,3,4,5,6,7], "labelExpr": "datum.value == 0 ? 'CTL' : datum.label", "title": null}}, "y": {"datum": 1329, "axis": {"values": [0,500,1000,1500], "title": null}}}},
   {"data": {"values": [{}]}, "mark": {"type": "rule", "color": "#EF4149", "strokeWidth": 1.8}, "encoding": {"x": {"datum": 6, "axis": {"values": [0,1,2,3,4,5,6,7], "labelExpr": "datum.value == 0 ? 'CTL' : datum.label", "title": null}}, "x2": {"datum": 7}, "y": {"datum": 1322, "axis": {"values": [0,500,1000,1500], "title": null}}}},
   {"data": {"values": [{}]}, "mark": {"type": "rule", "color": "#EF4149", "strokeWidth": 1.8}, "encoding": {"x": {"datum": 6, "axis": {"values": [0,1,2,3,4,5,6,7], "labelExpr": "datum.value == 0 ? 'CTL' : datum.label", "title": null}}, "y": {"datum": 1269, "axis": {"values": [0,500,1000,1500], "title": null}}, "y2": {"datum": 1383}}},
   {"data": {"values": [{}]}, "mark": {"type": "rule", "color": "#EF4149", "strokeWidth": 1.8}, "encoding": {"x": {"datum": 7, "axis": {"values": [0,1,2,3,4,5,6,7], "labelExpr": "datum.value == 0 ? 'CTL' : datum.label", "title": null}}, "y": {"datum": 1269, "axis": {"values": [0,500,1000,1500], "title": null}}, "y2": {"datum": 1383}}},
   {"data": {"values": [{}]}, "mark": {"type": "text", "text": "****", "fontSize": 16, "color": "#EF4149"}, "encoding": {"x": {"datum": 6.47, "axis": {"values": [0,1,2,3,4,5,6,7], "labelExpr": "datum.value == 0 ? 'CTL' : datum.label", "title": null}}, "y": {"datum": 1349, "axis": {"values": [0,500,1000,1500], "title": null}}}},
   {"data": {"values": [{}]}, "mark": {"type": "text", "text": "####", "fontSize": 10, "fontWeight": "bold"}, "encoding": {"x": {"datum": 6.3, "axis": {"values": [0,1,2,3,4,5,6,7], "labelExpr": "datum.value == 0 ? 'CTL' : datum.label", "title": null}}, "y": {"datum": -137.5, "axis": {"values": [0,500,1000,1500], "title": null}}}}
  ]}
  ]
 },
 {
  "bounds": "flush",
  "spacing": 50,
  "hconcat": [
  {"width": 141, "height": 140, "layer": [
   {"data": {"values": [{}]}, "mark": {"type": "rect", "color": "#d3d3d3"},
    "encoding": {"x": {"datum": 5, "type": "quantitative", "scale": {"domain": [-0.5, 7.5], "nice": false}, "axis": {"values": [0,1,2,3,4,5,6,7], "labelExpr": "datum.value == 0 ? 'CTL' : datum.label", "title": "Day Post Infection"}},
     "x2": {"datum": 7},
     "y": {"datum": 400, "type": "quantitative", "scale": {"domain": [0, 400], "nice": false}, "axis": {"values": [0,100,200,300,400], "title": "pg/mL"}},
     "y2": {"datum": -45.7}}},
   {"data": {"name": "d"}, "transform": [{"filter": "datum.c == 'MIP1' && isValid(datum.lo)"}], "mark": {"type": "errorbar", "ticks": true, "size": 7, "thickness": 1.8},
    "encoding": {"x": {"field": "d", "type": "quantitative", "axis": {"values": [0,1,2,3,4,5,6,7], "labelExpr": "datum.value == 0 ? 'CTL' : datum.label", "title": "Day Post Infection"}}, "y": {"field": "lo", "type": "quantitative", "axis": {"values": [0,100,200,300,400], "title": "pg/mL"}}, "y2": {"field": "hi"}, "color": {"field": "g", "type": "nominal"}}},
   {"data": {"name": "d"}, "transform": [{"filter": "datum.c == 'MIP1'"}], "mark": {"type": "line", "strokeWidth": 1.8},
    "encoding": {"x": {"field": "d", "type": "quantitative", "axis": {"values": [0,1,2,3,4,5,6,7], "labelExpr": "datum.value == 0 ? 'CTL' : datum.label", "title": "Day Post Infection"}}, "y": {"field": "m", "type": "quantitative", "axis": {"values": [0,100,200,300,400], "title": "pg/mL"}}, "color": {"field": "g", "type": "nominal"}}},
   {"data": {"name": "d"}, "transform": [{"filter": "datum.c == 'MIP1'"}], "mark": {"type": "point", "filled": true, "opacity": 1, "size": 55},
    "encoding": {"x": {"field": "d", "type": "quantitative", "axis": {"values": [0,1,2,3,4,5,6,7], "labelExpr": "datum.value == 0 ? 'CTL' : datum.label", "title": "Day Post Infection"}}, "y": {"field": "m", "type": "quantitative", "axis": {"values": [0,100,200,300,400], "title": "pg/mL"}}, "color": {"field": "g", "type": "nominal"}, "shape": {"field": "g", "type": "nominal", "scale": {"range": ["square", "circle"]}}}},
   {"data": {"values": [{}]}, "mark": {"type": "text", "text": "MIP-1α", "align": "left", "fontSize": 13, "fontWeight": "bold"}, "encoding": {"x": {"datum": -1.2, "axis": {"values": [0,1,2,3,4,5,6,7], "labelExpr": "datum.value == 0 ? 'CTL' : datum.label", "title": "Day Post Infection"}}, "y": {"datum": 375, "axis": {"values": [0,100,200,300,400], "title": "pg/mL"}}}},
   {"data": {"values": [{}]}, "mark": {"type": "text", "text": "****", "fontSize": 16, "color": "#EF4149"}, "encoding": {"x": {"datum": 7.0, "axis": {"values": [0,1,2,3,4,5,6,7], "labelExpr": "datum.value == 0 ? 'CTL' : datum.label", "title": "Day Post Infection"}}, "y": {"datum": 376, "axis": {"values": [0,100,200,300,400], "title": "pg/mL"}}}},
   {"data": {"values": [{}]}, "mark": {"type": "text", "text": "##", "fontSize": 10, "fontWeight": "bold"}, "encoding": {"x": {"datum": 6.56, "axis": {"values": [0,1,2,3,4,5,6,7], "labelExpr": "datum.value == 0 ? 'CTL' : datum.label", "title": "Day Post Infection"}}, "y": {"datum": -36.9, "axis": {"values": [0,100,200,300,400], "title": "pg/mL"}}}}
  ]},
  {"width": 140, "height": 140, "layer": [
   {"data": {"values": [{}]}, "mark": {"type": "rect", "color": "#d3d3d3"},
    "encoding": {"x": {"datum": 5, "type": "quantitative", "scale": {"domain": [-0.5, 7.5], "nice": false}, "axis": {"values": [0,1,2,3,4,5,6,7], "labelExpr": "datum.value == 0 ? 'CTL' : datum.label", "title": "Day Post Infection"}},
     "x2": {"datum": 7},
     "y": {"datum": 200, "type": "quantitative", "scale": {"domain": [0, 200], "nice": false}, "axis": {"values": [0,50,100,150,200], "title": null}},
     "y2": {"datum": -22.9}}},
   {"data": {"name": "d"}, "transform": [{"filter": "datum.c == 'MIP3' && isValid(datum.lo)"}], "mark": {"type": "errorbar", "ticks": true, "size": 7, "thickness": 1.8},
    "encoding": {"x": {"field": "d", "type": "quantitative", "axis": {"values": [0,1,2,3,4,5,6,7], "labelExpr": "datum.value == 0 ? 'CTL' : datum.label", "title": "Day Post Infection"}}, "y": {"field": "lo", "type": "quantitative", "axis": {"values": [0,50,100,150,200], "title": null}}, "y2": {"field": "hi"}, "color": {"field": "g", "type": "nominal"}}},
   {"data": {"name": "d"}, "transform": [{"filter": "datum.c == 'MIP3'"}], "mark": {"type": "line", "strokeWidth": 1.8},
    "encoding": {"x": {"field": "d", "type": "quantitative", "axis": {"values": [0,1,2,3,4,5,6,7], "labelExpr": "datum.value == 0 ? 'CTL' : datum.label", "title": "Day Post Infection"}}, "y": {"field": "m", "type": "quantitative", "axis": {"values": [0,50,100,150,200], "title": null}}, "color": {"field": "g", "type": "nominal"}}},
   {"data": {"name": "d"}, "transform": [{"filter": "datum.c == 'MIP3'"}], "mark": {"type": "point", "filled": true, "opacity": 1, "size": 55},
    "encoding": {"x": {"field": "d", "type": "quantitative", "axis": {"values": [0,1,2,3,4,5,6,7], "labelExpr": "datum.value == 0 ? 'CTL' : datum.label", "title": "Day Post Infection"}}, "y": {"field": "m", "type": "quantitative", "axis": {"values": [0,50,100,150,200], "title": null}}, "color": {"field": "g", "type": "nominal"}, "shape": {"field": "g", "type": "nominal", "scale": {"range": ["square", "circle"]}}}},
   {"data": {"values": [{}]}, "mark": {"type": "text", "text": "MIP-3α", "align": "left", "fontSize": 13, "fontWeight": "bold"}, "encoding": {"x": {"datum": -0.97, "axis": {"values": [0,1,2,3,4,5,6,7], "labelExpr": "datum.value == 0 ? 'CTL' : datum.label", "title": "Day Post Infection"}}, "y": {"datum": 177, "axis": {"values": [0,50,100,150,200], "title": null}}}},
   {"data": {"values": [{}]}, "mark": {"type": "rule", "color": "#EF4149", "strokeWidth": 1.8}, "encoding": {"x": {"datum": 6, "axis": {"values": [0,1,2,3,4,5,6,7], "labelExpr": "datum.value == 0 ? 'CTL' : datum.label", "title": "Day Post Infection"}}, "x2": {"datum": 7}, "y": {"datum": 198.6, "axis": {"values": [0,50,100,150,200], "title": null}}}},
   {"data": {"values": [{}]}, "mark": {"type": "rule", "color": "#EF4149", "strokeWidth": 1.8}, "encoding": {"x": {"datum": 6, "axis": {"values": [0,1,2,3,4,5,6,7], "labelExpr": "datum.value == 0 ? 'CTL' : datum.label", "title": "Day Post Infection"}}, "y": {"datum": 190.6, "axis": {"values": [0,50,100,150,200], "title": null}}, "y2": {"datum": 205.7}}},
   {"data": {"values": [{}]}, "mark": {"type": "rule", "color": "#EF4149", "strokeWidth": 1.8}, "encoding": {"x": {"datum": 7, "axis": {"values": [0,1,2,3,4,5,6,7], "labelExpr": "datum.value == 0 ? 'CTL' : datum.label", "title": "Day Post Infection"}}, "y": {"datum": 190.6, "axis": {"values": [0,50,100,150,200], "title": null}}, "y2": {"datum": 205.7}}},
   {"data": {"values": [{}]}, "mark": {"type": "text", "text": "****", "fontSize": 16, "color": "#EF4149"}, "encoding": {"x": {"datum": 6.63, "axis": {"values": [0,1,2,3,4,5,6,7], "labelExpr": "datum.value == 0 ? 'CTL' : datum.label", "title": "Day Post Infection"}}, "y": {"datum": 201, "axis": {"values": [0,50,100,150,200], "title": null}}}},
   {"data": {"values": [{}]}, "mark": {"type": "text", "text": "####", "fontSize": 10, "fontWeight": "bold"}, "encoding": {"x": {"datum": 6.4, "axis": {"values": [0,1,2,3,4,5,6,7], "labelExpr": "datum.value == 0 ? 'CTL' : datum.label", "title": "Day Post Infection"}}, "y": {"datum": -18.4, "axis": {"values": [0,50,100,150,200], "title": null}}}}
  ]}
  ]
 }
 ]
 }
 ]
}
]
}
